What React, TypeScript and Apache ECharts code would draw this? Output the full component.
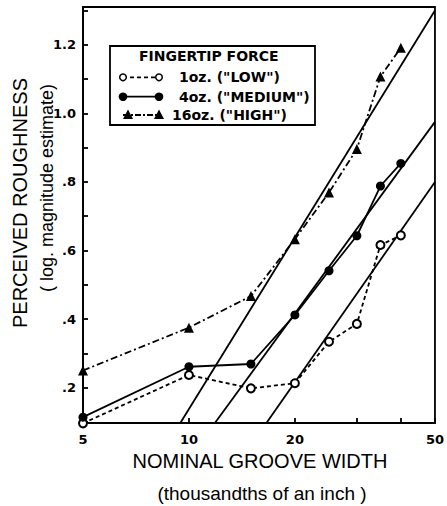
import React, { useEffect, useRef } from "react";
import * as echarts from "echarts";

// ---- data ----
const grooveWidths = [5, 10, 15, 20, 25, 30, 35, 40];
const lowValues = [0.096, 0.237, 0.198, 0.213, 0.334, 0.386, 0.616, 0.644];
const mediumValues = [0.114, 0.261, 0.269, 0.412, 0.541, 0.643, 0.788, 0.854];
const highValues = [0.25, 0.375, 0.467, 0.633, 0.769, 0.896, 1.107, 1.191];

// fitted straight lines (groove width, roughness) at their two ends
const fitHigh = [[9.45, 0.097], [50, 1.3]];
const fitMedium = [[11.85, 0.097], [50, 0.975]];
const fitLow = [[16.6, 0.097], [50, 0.8]];

const seriesNames = ['1oz. ("LOW")', '4oz. ("MEDIUM")', '16oz. ("HIGH")'];
const legendTitle = "FINGERTIP FORCE";

const xTickValues = [5, 10, 20, 30, 40, 50];
const xLabelValues = [5, 10, 20, 50];
const yTickValues = [0.1, 0.2, 0.3, 0.4, 0.5, 0.6, 0.7, 0.8, 0.9, 1.0, 1.1, 1.2, 1.3];
const yLabelValues = [0.2, 0.4, 0.6, 0.8, 1.0, 1.2];
const yLabelTexts = [".2", ".4", ".6", ".8", "1.0", "1.2"];

const xTitle = "NOMINAL GROOVE WIDTH";
const xSubtitle = "(thousandths of an inch )";
const yTitle = "PERCEIVED ROUGHNESS";
const ySubtitle = "( log. magnitude estimate)";

const lg = (v: number) => Math.log10(v);

export default function App() {
  const ref = useRef<HTMLDivElement>(null);
  useEffect(() => {
    if (!ref.current) return;
    const chart = echarts.init(ref.current, undefined, { renderer: "svg" });
    const pts = (vals: number[]) => grooveWidths.map((w, i) => [lg(w), vals[i]]);
    const fit = (arr: number[][]) => arr.map(([w, v]) => [lg(w), v]);
    const black = "#000";
    const tickFont = { color: black, fontFamily: "DejaVu Sans", fontWeight: "bold" as const, fontSize: 13 };
    const lineBase = { color: black, width: 1.8 };

    const legendRows = [77.3, 96.7, 115];
    const legendGraphics: any[] = [
      {
        type: "rect",
        shape: { x: 110, y: 46, width: 205, height: 79 },
        style: { fill: "#fff", stroke: black, lineWidth: 1.8 },
        z: 100,
      },
      {
        type: "text",
        x: 139,
        y: 56,
        z: 101,
        style: { text: legendTitle, fill: black, font: "bold 14px 'DejaVu Sans'", verticalAlign: "middle", align: "left" },
      },
    ];
    const dashes = [[4, 3], null, [6, 2, 2, 2]];
    seriesNames.forEach((name, i) => {
      const y = legendRows[i];
      legendGraphics.push({
        type: "line",
        z: 101,
        shape: { x1: 123, y1: y, x2: 159, y2: y },
        style: { stroke: black, lineWidth: 1.8, lineDash: dashes[i] || undefined },
      });
      [123, 159].forEach((cx) => {
        if (i === 0) {
          legendGraphics.push({ type: "circle", z: 102, shape: { cx, cy: y, r: 3.3 }, style: { fill: "#fff", stroke: black, lineWidth: 1.5 } });
        } else if (i === 1) {
          legendGraphics.push({ type: "circle", z: 102, shape: { cx, cy: y, r: 4.3 }, style: { fill: black } });
        } else {
          const ax = cx === 123 ? 128 : cx;
          legendGraphics.push({ type: "polygon", z: 102, shape: { points: [[ax, y - 5.5], [ax - 5, y + 4], [ax + 5, y + 4]] }, style: { fill: black } });
        }
      });
      legendGraphics.push({
        type: "text",
        x: i === 2 ? 172 : 179,
        y,
        z: 101,
        style: { text: name, fill: black, font: "bold 14px 'DejaVu Sans'", verticalAlign: "middle", align: "left" },
      });
    });

    chart.setOption({
      animation: false,
      backgroundColor: "#fff",
      grid: { left: 83, right: 10, top: 7, bottom: 83, show: true, borderColor: black, borderWidth: 1.8, backgroundColor: "transparent" },
      xAxis: {
        type: "value",
        min: lg(5),
        max: lg(50),
        axisLine: { show: true, lineStyle: { color: black, width: 1.8 } },
        axisTick: { show: true, inside: true, length: 5, customValues: xTickValues.map(lg), lineStyle: { color: black, width: 1.8 } },
        axisLabel: {
          ...tickFont,
          margin: 10,
          customValues: xLabelValues.map(lg),
          formatter: (v: number) => String(Math.round(Math.pow(10, v))),
        },
        splitLine: { show: false },
      },
      yAxis: {
        type: "value",
        min: 0.097,
        max: 1.31,
        axisLine: { show: true, lineStyle: { color: black, width: 1.8 } },
        axisTick: { show: true, inside: true, length: 5, customValues: yTickValues, lineStyle: { color: black, width: 1.8 } },
        axisLabel: {
          ...tickFont,
          margin: 7,
          customValues: yLabelValues,
          formatter: (v: number) => {
            let best = 0;
            yLabelValues.forEach((lv, i) => { if (Math.abs(lv - v) < Math.abs(yLabelValues[best] - v)) best = i; });
            return yLabelTexts[best];
          },
        },
        splitLine: { show: false },
      },
      series: [
        {
          name: seriesNames[0], type: "line", data: pts(lowValues), clip: false,
          symbol: "emptyCircle", symbolSize: 8,
          lineStyle: { ...lineBase, type: [4, 3] },
          itemStyle: { color: black, borderColor: black, borderWidth: 1.6 },
          z: 5,
        },
        {
          name: seriesNames[1], type: "line", data: pts(mediumValues), clip: false,
          symbol: "circle", symbolSize: 9,
          lineStyle: { ...lineBase, type: "solid" },
          itemStyle: { color: black },
          z: 6,
        },
        {
          name: seriesNames[2], type: "line", data: pts(highValues), clip: false,
          symbol: "triangle", symbolSize: 10,
          lineStyle: { ...lineBase, type: [7, 3, 2, 3] },
          itemStyle: { color: black },
          z: 7,
        },
        { name: "fitHigh", type: "line", data: fit(fitHigh), symbol: "none", lineStyle: { ...lineBase }, z: 3 },
        { name: "fitMedium", type: "line", data: fit(fitMedium), symbol: "none", lineStyle: { ...lineBase }, z: 3 },
        { name: "fitLow", type: "line", data: fit(fitLow), symbol: "none", lineStyle: { ...lineBase }, z: 3 },
      ],
      graphic: [
        ...legendGraphics,
        {
          type: "text", x: 20, y: 203, rotation: Math.PI / 2,
          style: { text: yTitle, fill: black, font: "20px 'Liberation Sans'", align: "center", verticalAlign: "middle" },
        },
        {
          type: "text", x: 47, y: 188, rotation: Math.PI / 2,
          style: { text: ySubtitle, fill: black, font: "18px 'Liberation Sans'", align: "center", verticalAlign: "middle" },
        },
        {
          type: "text", x: 260, y: 461,
          style: { text: xTitle, fill: black, font: "20px 'Liberation Sans'", align: "center", verticalAlign: "middle" },
        },
        {
          type: "text", x: 262, y: 493,
          style: { text: xSubtitle, fill: black, font: "19px 'Liberation Sans'", align: "center", verticalAlign: "middle" },
        },
      ],
    });
    return () => chart.dispose();
  }, []);
  return <div ref={ref} style={{ position: "fixed", left: 0, top: 0, width: 447, height: 506 }} />;
}
